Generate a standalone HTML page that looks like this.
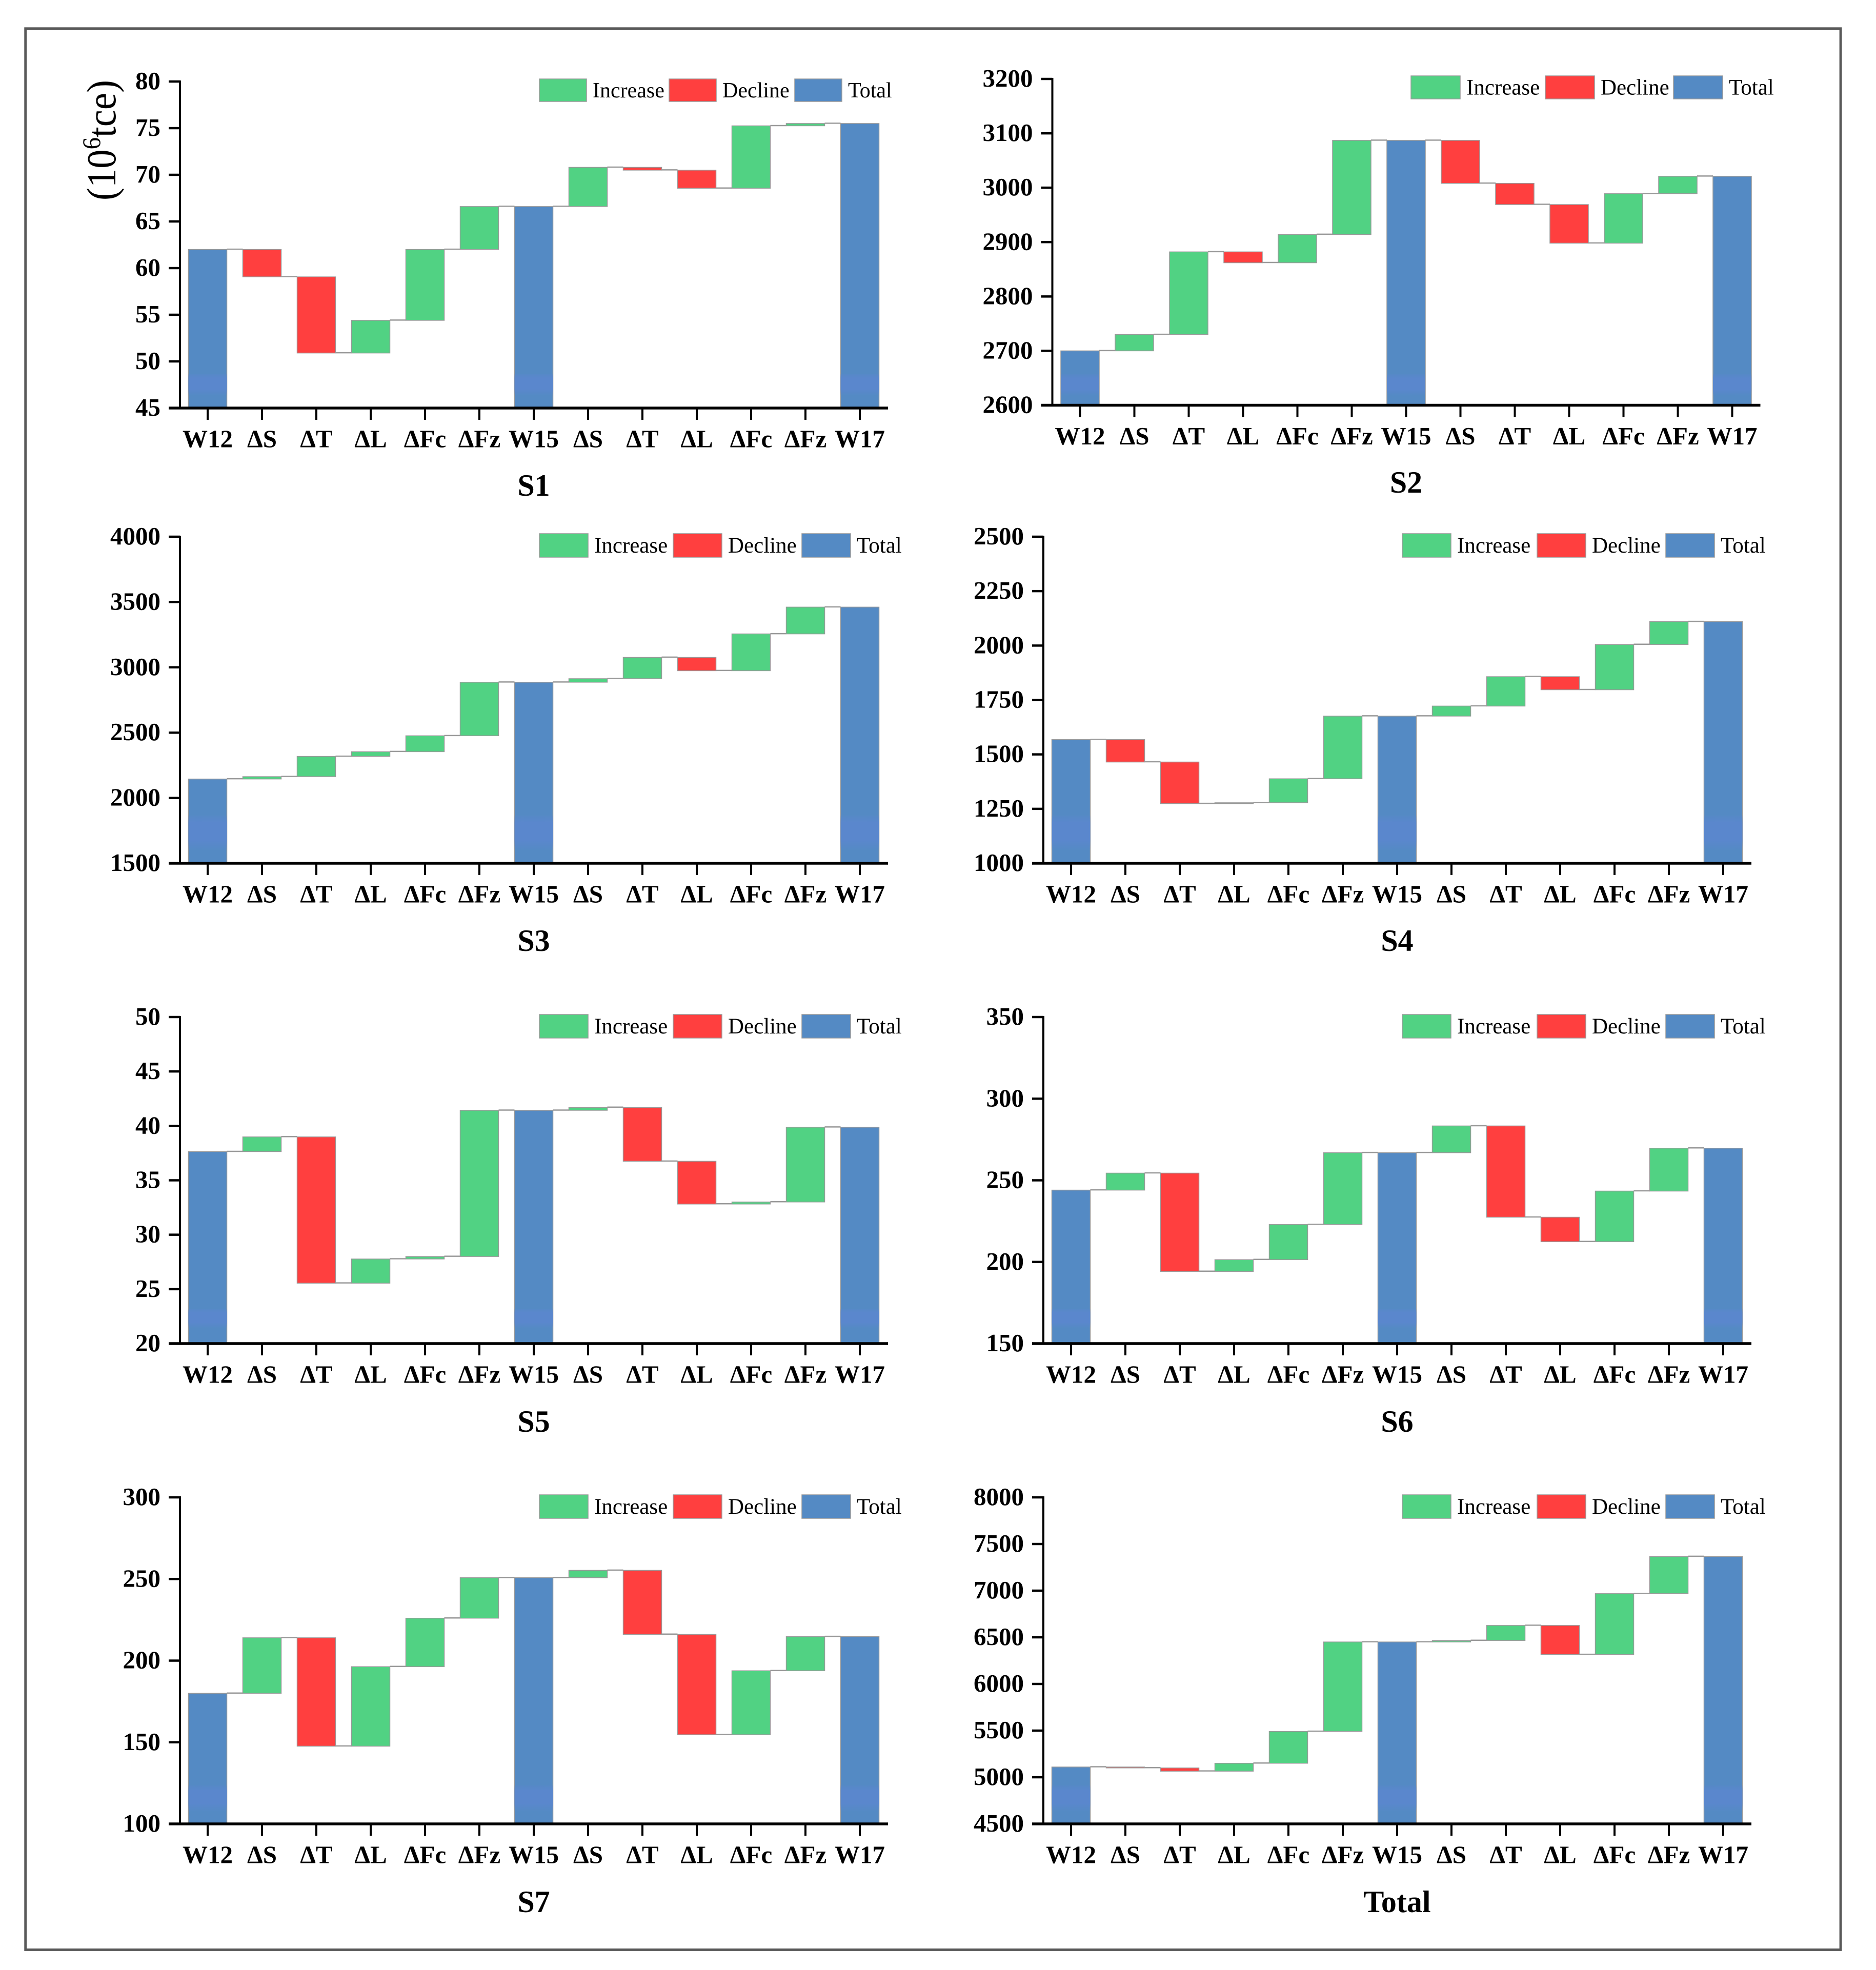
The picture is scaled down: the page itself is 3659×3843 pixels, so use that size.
<!DOCTYPE html>
<html lang="en">
<head>
<meta charset="utf-8">
<title>Waterfall decomposition charts</title>
<style>
html,body{margin:0;padding:0;background:#fff;}
svg{display:block;}
text{font-family:"Liberation Serif","DejaVu Serif",serif;fill:#000;}
</style>
</head>
<body>
<svg id="figure" xmlns="http://www.w3.org/2000/svg" width="3659" height="3843" viewBox="0 0 3659 3843">
  <defs>
    <linearGradient id="band-fade" x1="0" y1="0" x2="0" y2="1">
      <stop offset="0" stop-color="#5a87cd" stop-opacity="0.25"></stop>
      <stop offset="0.2" stop-color="#5a87cd" stop-opacity="1"></stop>
      <stop offset="0.7" stop-color="#5a87cd" stop-opacity="1"></stop>
      <stop offset="1" stop-color="#5a87cd" stop-opacity="0"></stop>
    </linearGradient>
  </defs>
  <rect x="0" y="0" width="3659" height="3843" fill="#ffffff"></rect>
  <rect x="49.7" y="55.7" width="3540.3" height="3747.8" fill="none" stroke="#595959" stroke-width="4.8"></rect>
  <text transform="translate(225,391) rotate(-90)" font-size="80" textLength="235" lengthAdjust="spacingAndGlyphs">(10<tspan font-size="50" dy="-30">6</tspan><tspan dy="30">tce)</tspan></text>
</svg>
<script>
// Shared category labels. Indices 0, 6 and 12 are totals; the rest are changes.
const categories = ["W12", "ΔS", "ΔT", "ΔL", "ΔFc", "ΔFz", "W15", "ΔS", "ΔT", "ΔL", "ΔFc", "ΔFz", "W17"];
const totalIndexes = [0, 6, 12];
const legendLabels = ["Increase", "Decline", "Total"];

const s1Values = [62, -2.94, -8.16, 3.5, 7.6, 4.6, 66.6, 4.2, -0.3, -1.94, 6.69, 0.25, 75.5];
const s1Ticks = [45, 50, 55, 60, 65, 70, 75, 80];

const s2Values = [2700, 30, 152, -20, 52, 173, 3087, -79, -39, -71, 91, 32, 3021];
const s2Ticks = [2600, 2700, 2800, 2900, 3000, 3100, 3200];

const s3Values = [2145, 18, 155, 36, 122, 410, 2886, 27, 163, -102, 282, 205, 3461];
const s3Ticks = [1500, 2000, 2500, 3000, 3500, 4000];

const s4Values = [1568, -103, -191, 4, 110, 288, 1676, 46, 135, -60, 208, 105, 2110];
const s4Ticks = [1000, 1250, 1500, 1750, 2000, 2250, 2500];

const s5Values = [37.64, 1.35, -13.44, 2.22, 0.23, 13.43, 41.43, 0.27, -4.95, -3.93, 0.19, 6.87, 39.88];
const s5Ticks = [20, 25, 30, 35, 40, 45, 50];

const s6Values = [244, 10.4, -60.2, 7.2, 21.5, 44, 266.9, 16.4, -55.9, -15, 31, 26.3, 269.7];
const s6Ticks = [150, 200, 250, 300, 350];

const s7Values = [180, 34, -66.4, 48.7, 29.7, 24.8, 250.8, 4.5, -39.2, -61.5, 39.2, 20.9, 214.7];
const s7Ticks = [100, 150, 200, 250, 300];

const totalValues = [5110, -10, -35, 85, 341, 959, 6450, 16, 161, -312, 653, 398, 7366];
const totalTicks = [4500, 5000, 5500, 6000, 6500, 7000, 7500, 8000];

const SVG_NS = "http://www.w3.org/2000/svg";
const figure = document.getElementById("figure");
const COLORS = { increase: "#51d283", decline: "#ff3f3f", total: "#548ac4", edge: "#999999" };
const STEP = 106;
const BAR_WIDTH = 75;

function make(parent, tag, attrs, text) {
  const node = document.createElementNS(SVG_NS, tag);
  for (const key in attrs) node.setAttribute(key, attrs[key]);
  if (text !== undefined) node.textContent = text;
  parent.appendChild(node);
  return node;
}

function drawChart(cfg) {
  const group = make(figure, "g", {});
  
  

  const lo = cfg.ticks[0];
  const hi = cfg.ticks[cfg.ticks.length - 1];
  const yScale = v => cfg.base - (v - lo) / (hi - lo) * (cfg.base - cfg.top);
  const xScale = i => cfg.x0 + i * STEP;

  // Bars and connectors
  let level = 0;
  const tops = [];
  cfg.values.forEach((value, i) => {
    const isTotal = totalIndexes.includes(i);
    const start = isTotal ? lo : level;
    const end = isTotal ? value : level + value;
    level = end;
    tops.push(end);
    const yA = yScale(Math.max(start, end));
    const yB = yScale(Math.min(start, end));
    const fill = isTotal ? COLORS.total : (value >= 0 ? COLORS.increase : COLORS.decline);
    const bar = make(group, "rect", {
      x: xScale(i) - BAR_WIDTH / 2, y: yA, width: BAR_WIDTH, height: Math.max(yB - yA, 1),
      fill: fill, stroke: COLORS.edge, "stroke-width": 1.5
    });
    
    
    if (isTotal) {
      const bandTop = Math.max(cfg.base - cfg.bandTop, yA);
      const band = make(group, "rect", {
        x: xScale(i) - BAR_WIDTH / 2, y: bandTop, width: BAR_WIDTH,
        height: Math.max(cfg.base - cfg.bandBottom - bandTop, 0), fill: "url(#band-fade)"
      });
      
      
    }
  });
  tops.forEach((v, i) => {
    if (i === tops.length - 1) return;
    const y = yScale(v) - 0.5;
    const link = make(group, "line", {
      x1: xScale(i) + BAR_WIDTH / 2, x2: xScale(i + 1) - BAR_WIDTH / 2, y1: y, y2: y,
      stroke: COLORS.edge, "stroke-width": 2.5
    });
    
    
  });

  // Axes
  const axisX = cfg.x0 - 54;
  const yAxis = make(group, "line", { x1: axisX, x2: axisX, y1: cfg.top - 2, y2: cfg.base + 2, stroke: "#000", "stroke-width": 4 });
  
  
  const xAxis = make(group, "line", { x1: axisX - 22, x2: axisX + 1381, y1: cfg.base, y2: cfg.base, stroke: "#000", "stroke-width": 5.5 });
  
  

  cfg.ticks.forEach(t => {
    const y = yScale(t);
    const mark = make(group, "line", { x1: axisX - 22, x2: axisX, y1: y, y2: y, stroke: "#000", "stroke-width": 4.5 });
    
    
    const label = make(group, "text", { x: axisX - 38, y: y + 15, "font-size": 49, "font-weight": "bold", "text-anchor": "end" }, String(t));
    
    
  });

  categories.forEach((c, i) => {
    const x = xScale(i);
    const mark = make(group, "line", { x1: x, x2: x, y1: cfg.base, y2: cfg.base + 23, stroke: "#000", "stroke-width": 4 });
    
    
    const label = make(group, "text", { x: x, y: cfg.base + 76.5, "font-size": 49, "font-weight": "bold", "text-anchor": "middle" }, c);
    
    
  });

  // Chart caption
  const caption = make(group, "text", { x: xScale(6), y: cfg.titleY, "font-size": 60, "font-weight": "bold", "text-anchor": "middle" }, cfg.title);
  
  

  // Legend
  const swatchFill = [COLORS.increase, COLORS.decline, COLORS.total];
  legendLabels.forEach((name, i) => {
    const swatch = make(group, "rect", {
      x: cfg.legendX[i], y: cfg.legendY, width: cfg.legendW, height: cfg.legendH,
      fill: swatchFill[i], stroke: COLORS.edge, "stroke-width": 1.5
    });
    
    
    const entry = make(group, "text", {
      x: cfg.legendX[i] + cfg.legendW + 12, y: cfg.legendY + cfg.legendH / 2 + 14, "font-size": cfg.legendFont
    }, name);
    
    
  });
}

drawChart({ name: "s1", title: "S1", values: s1Values, ticks: s1Ticks, x0: 405, top: 159, base: 796, titleY: 967, legendX: [1052, 1305, 1550], legendY: 154, legendW: 92, legendH: 44, legendFont: 42, bandTop: 67, bandBottom: 24 });
drawChart({ name: "s2", title: "S2", values: s2Values, ticks: s2Ticks, x0: 2106.5, top: 154, base: 790.5, titleY: 961, legendX: [2752, 3014, 3264], legendY: 148, legendW: 96, legendH: 45, legendFont: 43, bandTop: 61, bandBottom: 18 });
drawChart({ name: "s3", title: "S3", values: s3Values, ticks: s3Ticks, x0: 405, top: 1047, base: 1684, titleY: 1855, legendX: [1052, 1313, 1564], legendY: 1041, legendW: 95, legendH: 46, legendFont: 43, bandTop: 93, bandBottom: 24 });
drawChart({ name: "s4", title: "S4", values: s4Values, ticks: s4Ticks, x0: 2089, top: 1047, base: 1684, titleY: 1855, legendX: [2735, 2998, 3249], legendY: 1041, legendW: 95, legendH: 46, legendFont: 43, bandTop: 93, bandBottom: 24 });
drawChart({ name: "s5", title: "S5", values: s5Values, ticks: s5Ticks, x0: 405, top: 1984, base: 2621, titleY: 2793, legendX: [1052, 1313, 1564], legendY: 1979, legendW: 95, legendH: 46, legendFont: 43, bandTop: 68, bandBottom: 30 });
drawChart({ name: "s6", title: "S6", values: s6Values, ticks: s6Ticks, x0: 2089, top: 1984, base: 2621, titleY: 2793, legendX: [2735, 2998, 3249], legendY: 1979, legendW: 95, legendH: 46, legendFont: 43, bandTop: 68, bandBottom: 30 });
drawChart({ name: "s7", title: "S7", values: s7Values, ticks: s7Ticks, x0: 405, top: 2921, base: 3558, titleY: 3730, legendX: [1052, 1313, 1564], legendY: 2916, legendW: 95, legendH: 46, legendFont: 43, bandTop: 75, bandBottom: 24 });
drawChart({ name: "total", title: "Total", values: totalValues, ticks: totalTicks, x0: 2089, top: 2921, base: 3558, titleY: 3730, legendX: [2735, 2998, 3249], legendY: 2916, legendW: 95, legendH: 46, legendFont: 43, bandTop: 75, bandBottom: 24 });
</script>
</body>
</html>
